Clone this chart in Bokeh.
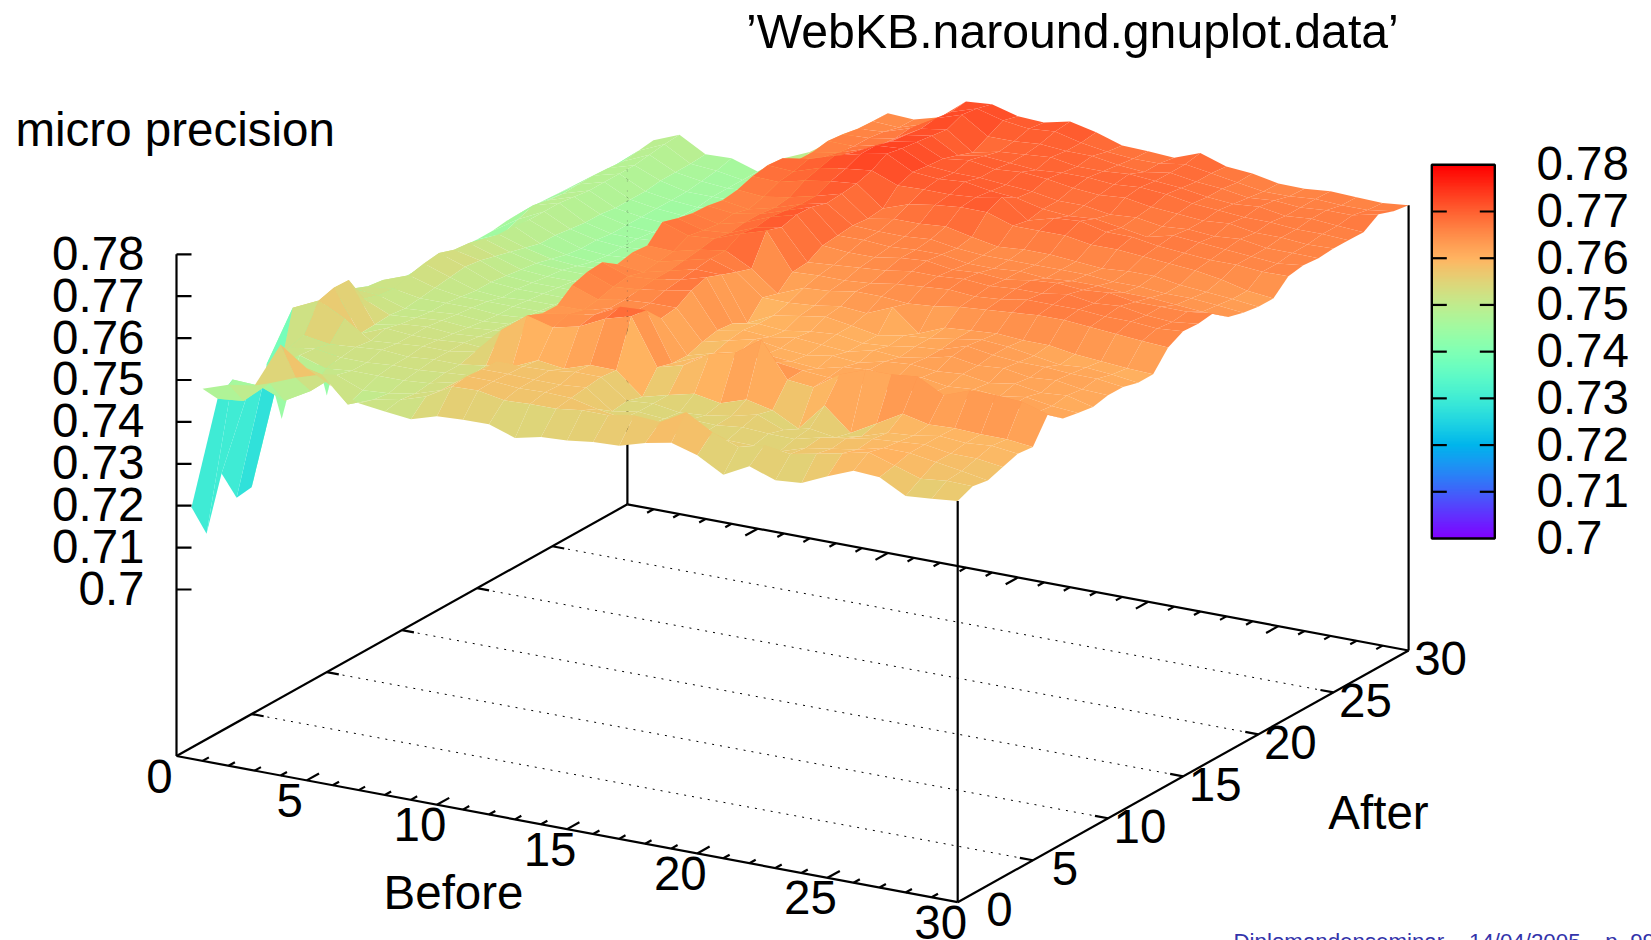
import math
import numpy as np
from bokeh.plotting import figure
from bokeh.models import Range1d, ColumnDataSource, LinearColorMapper
from bokeh.core.properties import value
from bokeh.embed import file_html
from bokeh.resources import INLINE

nan = float("nan")
# micro precision per "After" row (0..30), one value per "Before" 0..30
after_00 = [nan,.7491,.7512,.7522,.7631,.7586,.7553,.7526,.7518,.7511,.7530,.7533,.7534,.7513,.7527,.7530,.7538,.7541,.7559,.7571,.7553,.7518,.7550,.7528,.7533,.7561,.7586,.7582,.7549,.7554,.7560]
after_01 = [.7176,.7447,.7453,.7507,.7532,.7551,.7491,.7515,.7525,.7545,.7581,.7583,.7571,.7574,.7574,.7582,.7582,.7593,.7589,.7624,.7588,.7564,.7580,.7571,.7583,.7596,.7610,.7590,.7570,.7577,.7575]
after_02 = [.7093,.7473,.7470,.7445,.7480,.7530,.7505,.7510,.7520,.7540,.7585,.7585,.7580,.7582,.7580,.7565,.7555,.7550,.7540,.7550,.7549,.7548,.7545,.7565,.7575,.7585,.7600,.7600,.7590,.7580,.7569]
after_03 = [.7217,.7419,.7495,.7534,.7514,.7520,.7520,.7520,.7525,.7540,.7582,.7582,.7580,.7580,.7585,.7540,.7550,.7545,.7555,.7553,.7560,.7556,.7555,.7570,.7580,.7590,.7595,.7600,.7590,.7590,.7581]
after_04 = [.7139,.7418,.7520,.7530,.7520,.7520,.7525,.7525,.7530,.7535,.7580,.7580,.7582,.7590,.7590,.7545,.7550,.7540,.7545,.7555,.7570,.7545,.7560,.7550,.7565,.7585,.7590,.7600,.7595,.7600,.7593]
after_05 = [.7144,.7409,.7530,.7520,.7525,.7530,.7525,.7530,.7530,.7539,.7547,.7575,.7566,.7587,.7586,.7534,.7550,.7565,.7554,.7574,.7560,.7528,.7595,.7541,.7575,.7610,.7596,.7599,.7596,.7596,.7589]
after_06 = [.7418,.7564,.7593,.7561,.7520,.7525,.7530,.7530,.7540,.7603,.7650,.7633,.7647,.7677,.7695,.7585,.7601,.7639,.7654,.7697,.7613,.7607,.7649,.7672,.7672,.7679,.7646,.7669,.7669,.7665,.7647]
after_07 = [.7267,.7520,.7603,.7505,.7530,.7525,.7525,.7530,.7525,.7580,.7635,.7645,.7655,.7686,.7689,.7574,.7600,.7610,.7625,.7623,.7615,.7610,.7612,.7606,.7615,.7620,.7618,.7625,.7622,.7620,.7617]
after_08 = [.7390,.7530,.7602,.7507,.7520,.7525,.7520,.7525,.7530,.7560,.7634,.7635,.7650,.7655,.7650,.7573,.7590,.7605,.7610,.7605,.7600,.7615,.7620,.7610,.7625,.7615,.7620,.7615,.7625,.7615,.7610]
after_09 = [.7420,.7525,.7537,.7510,.7515,.7520,.7515,.7520,.7525,.7545,.7662,.7640,.7650,.7655,.7655,.7585,.7600,.7615,.7605,.7600,.7610,.7605,.7620,.7625,.7620,.7625,.7615,.7625,.7615,.7620,.7604]
after_10 = [.7263,.7530,.7525,.7505,.7510,.7515,.7510,.7515,.7520,.7540,.7674,.7650,.7655,.7665,.7676,.7593,.7605,.7600,.7610,.7605,.7600,.7615,.7610,.7620,.7635,.7625,.7630,.7620,.7625,.7615,.7612]
after_11 = [.7410,.7515,.7521,.7510,.7510,.7510,.7505,.7510,.7520,.7530,.7677,.7655,.7660,.7670,.7688,.7589,.7600,.7595,.7605,.7610,.7600,.7605,.7615,.7620,.7640,.7630,.7625,.7625,.7620,.7620,.7612]
after_12 = [.7420,.7510,.7533,.7515,.7505,.7505,.7505,.7505,.7515,.7530,.7652,.7645,.7660,.7675,.7674,.7570,.7600,.7610,.7620,.7610,.7599,.7610,.7615,.7625,.7635,.7630,.7620,.7610,.7615,.7610,.7602]
after_13 = [.7430,.7464,.7541,.7520,.7500,.7495,.7500,.7500,.7510,.7525,.7660,.7650,.7665,.7680,.7660,.7611,.7610,.7615,.7625,.7620,.7646,.7595,.7620,.7625,.7630,.7625,.7625,.7615,.7610,.7605,.7602]
after_14 = [.7438,.7488,.7546,.7525,.7500,.7495,.7495,.7495,.7505,.7520,.7657,.7655,.7670,.7680,.7648,.7600,.7625,.7630,.7640,.7640,.7635,.7640,.7650,.7655,.7660,.7665,.7665,.7660,.7655,.7650,.7646]
after_15 = [.7441,.7490,.7534,.7520,.7495,.7490,.7490,.7490,.7500,.7515,.7693,.7672,.7677,.7700,.7719,.7632,.7635,.7635,.7640,.7650,.7655,.7660,.7655,.7660,.7670,.7670,.7670,.7665,.7665,.7660,.7665]
after_16 = [.7441,.7485,.7530,.7510,.7490,.7485,.7485,.7490,.7495,.7510,.7682,.7665,.7670,.7695,.7707,.7635,.7640,.7645,.7650,.7660,.7660,.7665,.7660,.7665,.7665,.7675,.7665,.7670,.7660,.7655,.7663]
after_17 = [.7440,.7478,.7520,.7500,.7485,.7480,.7480,.7485,.7490,.7505,.7674,.7660,.7675,.7700,.7717,.7655,.7650,.7650,.7660,.7665,.7655,.7660,.7655,.7665,.7670,.7665,.7670,.7660,.7660,.7660,.7668]
after_18 = [.7440,.7472,.7510,.7490,.7475,.7470,.7475,.7480,.7485,.7500,.7672,.7665,.7675,.7695,.7715,.7659,.7660,.7655,.7660,.7660,.7650,.7650,.7655,.7650,.7655,.7655,.7650,.7650,.7645,.7640,.7639]
after_19 = [.7438,.7466,.7510,.7480,.7465,.7460,.7465,.7475,.7485,.7500,.7665,.7655,.7670,.7690,.7704,.7663,.7660,.7660,.7665,.7655,.7650,.7650,.7650,.7650,.7650,.7645,.7645,.7640,.7640,.7635,.7629]
after_20 = [.7435,.7460,.7505,.7480,.7460,.7455,.7460,.7470,.7480,.7495,.7670,.7665,.7675,.7690,.7707,.7659,.7670,.7670,.7675,.7662,.7650,.7655,.7655,.7650,.7645,.7650,.7650,.7640,.7635,.7630,.7623]
after_21 = [.7435,.7475,.7505,.7475,.7460,.7455,.7460,.7465,.7475,.7490,.7682,.7680,.7695,.7705,.7711,.7663,.7685,.7695,.7701,.7701,.7680,.7680,.7680,.7670,.7670,.7665,.7660,.7655,.7645,.7630,.7623]
after_22 = [.7440,.7488,.7505,.7470,.7455,.7455,.7460,.7465,.7475,.7485,.7688,.7685,.7705,.7715,.7722,.7698,.7700,.7700,.7705,.7717,.7673,.7690,.7695,.7680,.7680,.7670,.7665,.7660,.7660,.7655,.7656]
after_23 = [.7440,.7480,.7500,.7470,.7455,.7450,.7455,.7465,.7475,.7485,.7685,.7695,.7715,.7730,.7742,.7710,.7705,.7710,.7700,.7695,.7680,.7675,.7680,.7670,.7660,.7675,.7670,.7665,.7660,.7655,.7662]
after_24 = [.7440,.7476,.7495,.7465,.7455,.7450,.7455,.7465,.7475,.7485,.7661,.7680,.7700,.7730,.7735,.7705,.7700,.7700,.7695,.7690,.7680,.7680,.7670,.7675,.7665,.7670,.7665,.7670,.7660,.7660,.7659]
after_25 = [.7438,.7478,.7495,.7465,.7455,.7450,.7455,.7460,.7475,.7490,.7660,.7670,.7690,.7720,.7730,.7702,.7710,.7700,.7705,.7700,.7690,.7685,.7690,.7680,.7675,.7670,.7675,.7665,.7665,.7660,.7662]
after_26 = [.7436,.7479,.7495,.7465,.7455,.7450,.7455,.7465,.7480,.7495,.7666,.7665,.7680,.7715,.7725,.7690,.7700,.7695,.7690,.7695,.7695,.7690,.7695,.7690,.7680,.7675,.7670,.7670,.7665,.7665,.7662]
after_27 = [.7433,.7477,.7495,.7470,.7455,.7455,.7455,.7470,.7490,.7505,.7662,.7665,.7675,.7710,.7720,.7677,.7690,.7695,.7700,.7690,.7690,.7695,.7690,.7685,.7675,.7670,.7675,.7665,.7670,.7665,.7661]
after_28 = [.7430,.7473,.7500,.7470,.7460,.7455,.7460,.7475,.7500,.7520,.7655,.7660,.7680,.7715,.7735,.7695,.7695,.7700,.7695,.7695,.7685,.7680,.7690,.7680,.7675,.7665,.7670,.7665,.7670,.7670,.7684]
after_29 = [.7428,.7478,.7505,.7470,.7465,.7455,.7465,.7500,.7540,.7585,.7653,.7650,.7670,.7710,.7730,.7713,.7705,.7710,.7695,.7685,.7680,.7680,.7690,.7680,.7670,.7660,.7660,.7665,.7662,.7662,.7671]
after_30 = [.7428,.7483,.7508,.7473,.7475,.7455,.7498,.7525,.7566,.7605,.7652,.7649,.7666,.7715,.7720,.7703,.7700,.7714,.7700,.7680,.7678,.7674,.7697,.7676,.7671,.7659,.7658,.7664,.7661,.7659,.7665]

z_rows = [after_00, after_01, after_02, after_03, after_04, after_05, after_06, after_07, after_08, after_09, after_10,
          after_11, after_12, after_13, after_14, after_15, after_16, after_17, after_18, after_19, after_20,
          after_21, after_22, after_23, after_24, after_25, after_26, after_27, after_28, after_29, after_30]
Z = np.array(z_rows)  # Z[A][B]

x_major = [0, 5, 10, 15, 20, 25, 30]
y_major = [0, 5, 10, 15, 20, 25, 30]
z_ticks = [0.7, 0.71, 0.72, 0.73, 0.74, 0.75, 0.76, 0.77, 0.78]
z_labels = ["0.7", "0.71", "0.72", "0.73", "0.74", "0.75", "0.76", "0.77", "0.78"]

FONT = value("Liberation Sans")
FS = "47.5px"

# gnuplot view: screen position of a data point
OX, OY = 176.0, 755.5
BX, BY = 26.04, 4.873
AX, AY = 15.03, -8.39
ZK, Z0 = 4190.0, 0.66026


def px(b, a):
    return OX + BX * np.asarray(b, float) + AX * np.asarray(a, float)


def py(b, a, z=Z0):
    return OY + BY * np.asarray(b, float) + AY * np.asarray(a, float) - ZK * (np.asarray(z, float) - Z0)


# rgbformulae 33,13,10
def rainbow(t):
    r = min(1.0, abs(2 * t - 0.5))
    g = max(0.0, math.sin(math.pi * t))
    b = max(0.0, math.cos(math.pi * t / 2))
    return "#%02x%02x%02x" % (round(255 * r), round(255 * g), round(255 * b))


palette = [rainbow(i / 255) for i in range(256)]
mapper = LinearColorMapper(palette=palette, low=0.7, high=0.78)

p = figure(width=1651, height=940, x_range=Range1d(0, 1651), y_range=Range1d(940, 0),
           x_axis_type=None, y_axis_type=None, toolbar_location=None, output_backend="svg",
           min_border=0, outline_line_color=None, background_fill_color="white")
p.grid.visible = False

# floor: dotted grid, box edges and ticks
for a in y_major[1:-1]:
    p.line(px([0, 30], [a, a]), py([0, 30], [a, a]), line_color="black", line_width=1, line_dash="2 6")

segs = []


def seg(b0, a0, z0, b1, a1, z1):
    segs.append((float(px(b0, a0)), float(py(b0, a0, z0)), float(px(b1, a1)), float(py(b1, a1, z1))))


seg(0, 0, Z0, 30, 0, Z0)
seg(0, 0, Z0, 0, 30, Z0)
seg(30, 0, Z0, 30, 30, Z0)
seg(0, 30, Z0, 30, 30, Z0)
for b in range(1, 30):
    ln = 0.82 if b % 5 == 0 else 0.42
    seg(b, 0, Z0, b, ln, Z0)
    seg(b, 30, Z0, b, 30 - ln, Z0)
for a in y_major[1:-1]:
    seg(0, a, Z0, 0.46, a, Z0)
    seg(30, a, Z0, 29.5, a, Z0)
seg(0, 30, Z0, 0, 30, 0.7402)   # rear post, covered by the surface
seg(0, 0, Z0, 0, 0, 0.78)       # z axis
for zt in z_ticks:
    segs.append((float(px(0, 0)), float(py(0, 0, zt)), float(px(0, 0)) + 15, float(py(0, 0, zt))))
seg(30, 0, Z0, 30, 0, after_00[30])
seg(30, 30, Z0, 30, 30, after_30[30])
p.segment([s[0] for s in segs], [s[1] for s in segs], [s[2] for s in segs], [s[3] for s in segs],
          line_color="black", line_width=2.2)

# surface, painted from the far corner (Before 0, After 30) forwards
xs, ys, means = [], [], []
for b in range(30):
    for a in range(29, -1, -1):
        c = [(b, a), (b + 1, a), (b + 1, a + 1), (b, a + 1)]
        vals = [Z[q][k] for k, q in c]
        if any(math.isnan(v) for v in vals):
            continue
        xs.append([float(px(k, q)) for k, q in c])
        ys.append([float(py(k, q, Z[q][k])) for k, q in c])
        means.append(float(np.mean(vals)))
src = ColumnDataSource(dict(xs=xs, ys=ys, m=means))
p.patches("xs", "ys", source=src, fill_color={"field": "m", "transform": mapper}, line_color=None)

# faint trace of the rear post through the surface
rx = float(px(0, 30))
p.line([rx, rx], [170, 335], line_color="#555555", line_width=1, line_alpha=0.45, line_dash="1 9")

# colour box
cb_l, cb_r, cb_top, cb_bot = 1431.3, 1494.3, 164.3, 538.0
levels = np.linspace(0.7, 0.78, 257)
cy = lambda v: cb_bot + (np.asarray(v) - 0.7) / 0.08 * (cb_top - cb_bot)
p.quad(left=cb_l, right=cb_r, bottom=cy(levels[:-1]) + 0.4, top=cy(levels[1:]) - 0.4,
       fill_color=[palette[i] for i in range(256)], line_color=None)
p.quad(left=[cb_l], right=[cb_r], top=[cb_top], bottom=[cb_bot], fill_color=None, line_color="black", line_width=2.4)
tl = [float(cy(v)) for v in z_ticks[1:-1]]
p.segment([cb_l] * len(tl) + [cb_r] * len(tl), tl * 2, [cb_l + 15] * len(tl) + [cb_r - 15] * len(tl), tl * 2,
          line_color="black", line_width=2.2)


def label(x, y, t, align="center", size=FS, color="black", baseline="middle"):
    p.text(x=x, y=y, text=t, text_font=FONT, text_font_size=size, text_align=align,
           text_baseline=baseline, text_color=color)


# texts
label([745.5], [30], ["\u2019WebKB.naround.gnuplot.data\u2019"], "left", "48.2px")
label([15], [128.5], ["micro precision"], "left")
label([144] * 9, [float(py(0, 0, v)) - 1 for v in z_ticks], z_labels, "right")
label([1536] * 9, [float(cy(v)) - 1 for v in z_ticks], z_labels, "left")
label([float(px(b, 0)) - 17 for b in x_major], [float(py(b, 0)) + 20 for b in x_major], [str(b) for b in x_major])
label([999] + [float(px(30, a)) + 32 for a in y_major[1:]], [909] + [float(py(30, a)) + 8 for a in y_major[1:]],
      [str(a) for a in y_major])
label([453], [892], ["Before"])
label([1378], [812], ["After"])
label([1233], [928], ["Diplomandenseminar \u2013 14/04/2005 \u2013 p. 99"], "left", "22.3px", "#3333aa", "top")

open("out.html", "w").write(file_html(p, INLINE))
